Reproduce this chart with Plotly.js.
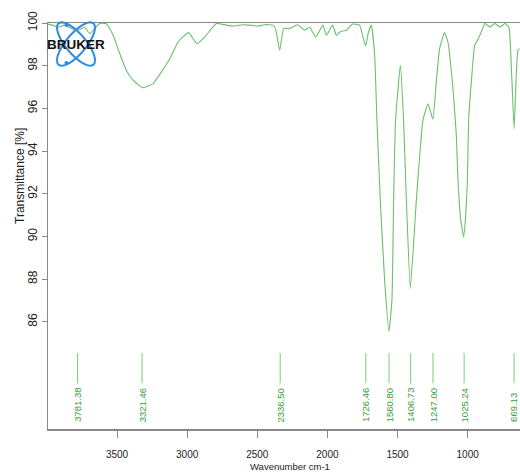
<!DOCTYPE html>
<html>
<head>
<meta charset="utf-8">
<script src="https://cdn.plot.ly/plotly-3.0.1.min.js"></script>
<style>html,body{margin:0;padding:0;background:#fff;}#chart{width:520px;height:474px;}</style>
</head>
<body>
<div id="chart"></div>
<script>
const wavenumber = [3992,3958,3923,3873,3823,3780,3730,3695,3659,3623,3588,3573,3529,3481,3433,3386,3315,3243,3184,3124,3065,3030,2989,2930,2875,2791,2720,2661,2600,2554,2500,2447,2388,2369,2340,2312,2269,2212,2162,2127,2084,2032,2007,1963,1936,1906,1865,1820,1770,1749,1727,1710,1687,1663,1647,1623,1592,1561,1540,1528,1514,1480,1457,1437,1409,1366,1319,1283,1248,1224,1200,1165,1141,1105,1081,1069,1050,1029,1014,1002,993,974,950,929,903,877,841,806,770,734,706,689,669,654,642,630];
const transmittance = [99.95,99.9,99.8,99.9,99.74,99.66,99.8,99.5,99.74,99.98,99.98,99.95,99.45,98.57,97.78,97.32,96.97,97.16,97.7,98.33,99.11,99.35,99.55,99.03,99.34,99.98,99.9,99.86,99.92,99.9,99.85,99.92,99.9,99.7,98.72,99.74,99.74,99.92,99.66,99.8,99.34,99.9,99.42,99.9,99.42,99.6,99.66,99.95,99.9,99.4,98.92,99.5,99.9,98.49,95.44,91.7,87.94,85.55,87.01,91.7,95.44,98.02,95.44,91.7,87.56,91.7,95.44,96.22,95.49,97.24,98.8,99.55,99.11,96.93,94.74,92.63,90.8,89.98,91.0,92.63,95.5,97.24,98.95,99.2,99.58,99.98,99.81,99.98,99.81,99.98,99.8,98.0,95.05,97.5,98.72,98.8];
const peakPositions = [3781.38,3321.46,2336.50,1726.46,1560.80,1406.73,1247.00,1025.24,669.13];
const peakLabels = ["3781.38","3321.46","2336.50","1726.46","1560.80","1406.73","1247.00","1025.24","669.13"];
const xTickVals = [3500,3000,2500,2000,1500,1000];
const yTickVals = [86,88,90,92,94,96,98,100];

// plot area geometry (pixels)
const L = 48, T = 23, W = 520, H = 474, B = 45, R = 0;
const pw = W - L - R, ph = H - T - B;
function px2paperX(px){ return (px - L) / pw; }
function px2paperY(py){ return (H - B - py) / ph; }

// peak marker line segments (built from peak positions)
const mx = [], my = [];
peakPositions.forEach(p => { mx.push(p, p, null); my.push(84.54, 83.12, null); });

const traces = [
  {x: wavenumber, y: transmittance, type: 'scatter', mode: 'lines',
   line: {color: '#6cbf6c', width: 1.1, shape: 'spline', smoothing: 0.4}, hoverinfo: 'skip'},
  {x: mx, y: my, type: 'scatter', mode: 'lines',
   line: {color: '#7ccc7c', width: 1}, hoverinfo: 'skip'}
];

const annotations = peakPositions.map((p, i) => ({
  x: p, y: 81.2, xref: 'x', yref: 'y', text: peakLabels[i], showarrow: false,
  textangle: -90, xanchor: 'center', yanchor: 'bottom',
  font: {family: 'Liberation Sans, Arial, sans-serif', size: 9.5, color: '#34a034'}
}));
annotations.push({
  x: px2paperX(20), y: px2paperY(176), xref: 'paper', yref: 'paper',
  text: 'Transmittance [%]', showarrow: false, textangle: -90,
  xanchor: 'center', yanchor: 'middle',
  font: {family: 'Liberation Sans, Arial, sans-serif', size: 12, color: '#222'}
});
annotations.push({
  x: px2paperX(290), y: px2paperY(466), xref: 'paper', yref: 'paper',
  text: 'Wavenumber cm-1', showarrow: false, xanchor: 'center', yanchor: 'middle',
  font: {family: 'Liberation Sans, Arial, sans-serif', size: 9.5, color: '#222'}
});
annotations.push({
  x: px2paperX(76), y: px2paperY(44), xref: 'paper', yref: 'paper',
  text: '<b>BRUKER</b>', showarrow: false, xanchor: 'center', yanchor: 'middle',
  font: {family: 'Liberation Sans, Arial, sans-serif', size: 13.5, color: '#111'}
});

// Bruker orbit logo as rotated ellipse paths
function ellipsePath(cx, cy, a, b, angDeg){
  const t = angDeg * Math.PI / 180; let d = '';
  for (let k = 0; k <= 60; k++){
    const u = 2 * Math.PI * k / 60;
    const ex = a * Math.cos(u), ey = b * Math.sin(u);
    const X = cx + ex * Math.cos(t) - ey * Math.sin(t);
    const Y = cy + ex * Math.sin(t) + ey * Math.cos(t);
    d += (k === 0 ? 'M' : 'L') + px2paperX(X).toFixed(5) + ',' + px2paperY(Y).toFixed(5);
  }
  return d + 'Z';
}
const shapes = [
  {type: 'path', xref: 'paper', yref: 'paper', path: ellipsePath(76, 44, 27, 10, 50), line: {color: '#2b8be8', width: 2}},
  {type: 'path', xref: 'paper', yref: 'paper', path: ellipsePath(76, 44, 27, 10, -50), line: {color: '#2b8be8', width: 2}},
  {type: 'circle', xref: 'paper', yref: 'paper', x0: px2paperX(64.5), x1: px2paperX(68.5), y0: px2paperY(23), y1: px2paperY(27), fillcolor: '#2b8be8', line: {width: 0}},
  {type: 'circle', xref: 'paper', yref: 'paper', x0: px2paperX(64.5), x1: px2paperX(68.5), y0: px2paperY(61), y1: px2paperY(65), fillcolor: '#2b8be8', line: {width: 0}}
];

const layout = {
  width: W, height: H,
  margin: {l: L, r: R, t: T, b: B, pad: 0},
  paper_bgcolor: '#fff', plot_bgcolor: '#fff',
  showlegend: false,
  font: {family: 'Liberation Sans, Arial, sans-serif', color: '#222'},
  xaxis: {
    range: [3992, 627], tickvals: xTickVals, ticktext: xTickVals.map(String),
    showgrid: false, zeroline: false, showline: true, linecolor: '#888', linewidth: 1.5,
    mirror: true, ticks: 'outside', ticklen: 7, tickcolor: '#888',
    ticklabelstandoff: 8,
    tickfont: {size: 10, color: '#222'}
  },
  yaxis: {
    range: [80.98, 100], tickvals: yTickVals, ticktext: yTickVals.map(String),
    showgrid: false, zeroline: false, showline: true, linecolor: '#888', linewidth: 1.5,
    ticks: 'outside', ticklen: 5, tickcolor: '#888', tickangle: -90,
    tickfont: {size: 12, color: '#222'}
  },
  annotations: annotations,
  shapes: shapes
};

Plotly.newPlot('chart', traces, layout, {staticPlot: true, displayModeBar: false});
</script>
</body>
</html>
